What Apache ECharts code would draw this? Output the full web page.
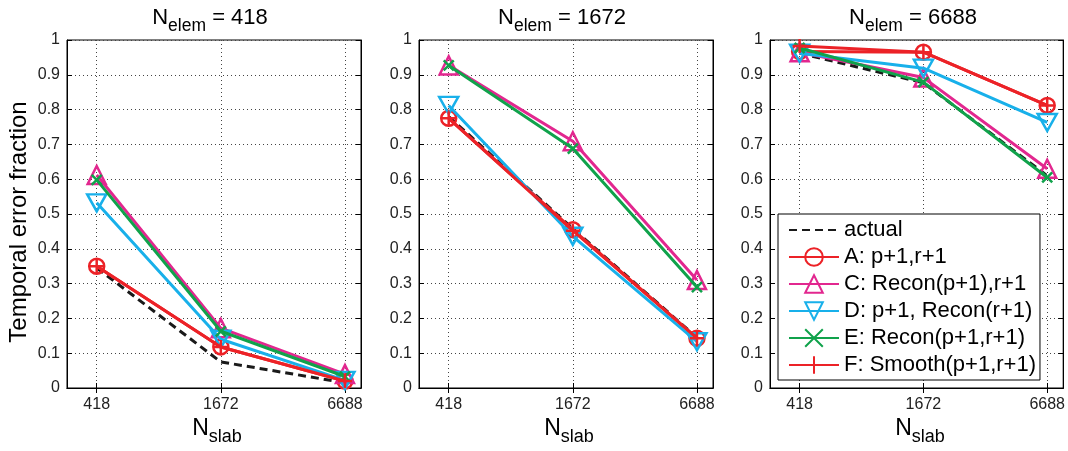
<!DOCTYPE html>
<html>
<head>
<meta charset="utf-8">
<script src="https://cdn.jsdelivr.net/npm/echarts@6/dist/echarts.min.js"></script>
<style>html,body{margin:0;padding:0;background:#fff}#c{width:1068px;height:451px}</style>
</head>
<body>
<div id="c"></div>
<script>
// ---------- data ----------
const N_SLAB = [418, 1672, 6688];
const N_ELEM = ['418', '1672', '6688'];
const SERIES_NAMES = ['actual', 'A: p+1,r+1', 'C: Recon(p+1),r+1', 'D: p+1, Recon(r+1)', 'E: Recon(p+1,r+1)', 'F: Smooth(p+1,r+1)'];
const Y_TICKS = [0, 0.1, 0.2, 0.3, 0.4, 0.5, 0.6, 0.7, 0.8, 0.9, 1];

// Nelem = 418
const actual_418 = [0.345, 0.075, 0.015];
const A_418 = [0.35, 0.118, 0.02];
const C_418 = [0.612, 0.172, 0.04];
const D_418 = [0.532, 0.14, 0.022];
const E_418 = [0.598, 0.163, 0.033];
const F_418 = [0.35, 0.118, 0.02];
// Nelem = 1672
const actual_1672 = [0.78, 0.458, 0.145];
const A_1672 = [0.775, 0.455, 0.143];
const C_1672 = [0.927, 0.709, 0.31];
const D_1672 = [0.812, 0.436, 0.133];
const E_1672 = [0.927, 0.688, 0.29];
const F_1672 = [0.775, 0.452, 0.143];
// Nelem = 6688
const actual_6688 = [0.962, 0.877, 0.61];
const A_6688 = [0.967, 0.965, 0.812];
const C_6688 = [0.965, 0.892, 0.63];
const D_6688 = [0.962, 0.919, 0.763];
const E_6688 = [0.977, 0.879, 0.605];
const F_6688 = [0.983, 0.965, 0.812];

const PANELS = [
  [actual_418, A_418, C_418, D_418, E_418, F_418],
  [actual_1672, A_1672, C_1672, D_1672, E_1672, F_1672],
  [actual_6688, A_6688, C_6688, D_6688, E_6688, F_6688]
];

// ---------- style ----------
const FONT = '"Liberation Sans", Arial, Helvetica, sans-serif';
const RED = '#EC2227', MAG = '#E2278F', CYAN = '#18B0EA', GREEN = '#10A24B', BLACK = '#1a1a1a';
const TRANSP = 'rgba(0,0,0,0)';
const STYLES = [
  {color: BLACK, symbol: 'circle', size: 0, dash: [8, 5], hideSym: true},
  {color: RED, symbol: 'circle', size: 15},
  {color: MAG, symbol: 'triangle', size: 18},
  {color: CYAN, symbol: 'path://M0,0L20,0L10,18Z', size: [19, 17]},
  {color: GREEN, symbol: 'path://M0,0L10,10M10,0L0,10', size: 10},
  {color: RED, symbol: 'path://M7,0L7,14M0,7L14,7', size: 14}
];
const LEFTS = [67, 419, 770];
const GW = 294, GTOP = 40, GH = 348;
const XMIN = Math.log(300), XMAX = Math.log(8000);
const xVals = N_SLAB.map(n => Math.log(n));

const grids = [], xAxes = [], yAxes = [], series = [], titles = [];
LEFTS.forEach((l, i) => {
  grids.push({left: l, top: GTOP, width: GW, height: GH, show: true, borderColor: '#000', borderWidth: 1, backgroundColor: '#fff'});
  const xBase = {
    type: 'value', gridIndex: i, min: XMIN, max: XMAX,
    axisLine: {show: true, lineStyle: {color: '#000', width: 1}},
    axisTick: {show: true, inside: true, length: 5, customValues: xVals, lineStyle: {color: '#000'}},
    splitLine: {show: false}
  };
  xAxes.push(Object.assign({}, xBase, {
    position: 'bottom',
    axisLabel: {customValues: xVals, margin: 9, color: '#222', fontSize: 16, fontFamily: FONT,
      formatter: v => String(Math.round(Math.exp(v)))},
    splitLine: {show: true, lineStyle: {color: '#444', type: [1, 3], width: 1}}
  }));
  xAxes.push(Object.assign({}, xBase, {position: 'top', axisLabel: {show: false}}));
  const yBase = {
    type: 'value', gridIndex: i, min: 0, max: 1, interval: 0.1,
    axisLine: {show: true, lineStyle: {color: '#000', width: 1}},
    axisTick: {show: true, inside: true, length: 5, lineStyle: {color: '#000'}},
    splitLine: {show: false}
  };
  yAxes.push(Object.assign({}, yBase, {
    position: 'left',
    axisLabel: {margin: 7, color: '#222', fontSize: 16, fontFamily: FONT,
      formatter: v => { const r = Math.round(v * 10) / 10; return Y_TICKS.indexOf(r) >= 0 ? String(r) : ''; }},
    splitLine: {show: true, lineStyle: {color: '#444', type: [1, 3], width: 1}}
  }));
  yAxes.push(Object.assign({}, yBase, {position: 'right', axisLabel: {show: false}}));

  PANELS[i].forEach((vals, k) => {
    const st = STYLES[k];
    series.push({
      name: SERIES_NAMES[k], type: 'line', xAxisIndex: i * 2, yAxisIndex: i * 2,
      data: vals.map((v, j) => [xVals[j], v]),
      symbol: st.symbol, symbolSize: st.size, showSymbol: !st.hideSym,
      lineStyle: {color: st.color, width: 3, type: st.dash || 'solid'},
      itemStyle: st.hideSym
        ? {color: TRANSP, borderColor: TRANSP, borderWidth: 0}
        : {color: TRANSP, borderColor: st.color, borderWidth: 2.5},
      emphasis: {disabled: true}, animation: false, z: 3 + k
    });
  });

  const cx = l + GW / 2;
  titles.push({
    left: cx - 4, top: 7, textAlign: 'center', padding: 0,
    text: '{n|N}{s|elem}{n| = ' + N_ELEM[i] + '}',
    textStyle: {fontWeight: 'normal', rich: {
      n: {fontSize: 22, fontFamily: FONT, fontWeight: 'normal', color: '#000', verticalAlign: 'bottom', padding: [0, 0, 6, 0]},
      s: {fontSize: 17.5, fontFamily: FONT, fontWeight: 'normal', color: '#000', verticalAlign: 'bottom'}
    }}
  });
  titles.push({
    left: cx + 3, top: 417, textAlign: 'center', padding: 0,
    text: '{n|N}{s|slab}',
    textStyle: {fontWeight: 'normal', rich: {
      n: {fontSize: 23, fontFamily: FONT, fontWeight: 'normal', color: '#000', verticalAlign: 'bottom', padding: [0, 0, 6, 0]},
      s: {fontSize: 18, fontFamily: FONT, fontWeight: 'normal', color: '#000', verticalAlign: 'bottom'}
    }}
  });
});

const chart = echarts.init(document.getElementById('c'), null, {renderer: 'canvas'});
chart.setOption({
  animation: false,
  backgroundColor: '#fff',
  title: titles,
  grid: grids,
  xAxis: xAxes,
  yAxis: yAxes,
  series: series,
  legend: {
    data: SERIES_NAMES,
    orient: 'vertical', left: 778, top: 214,
    padding: [5, 4, 4, 10], itemGap: 5, itemWidth: 50, itemHeight: 22,
    backgroundColor: '#fff', borderColor: '#000', borderWidth: 1,
    selectedMode: false,
    textStyle: {fontSize: 22, lineHeight: 22, fontFamily: FONT, color: '#000'}
  },
  graphic: [{
    type: 'text', x: 19, y: 222, rotation: Math.PI / 2,
    style: {text: 'Temporal error fraction', font: '24px ' + FONT, fill: '#000', align: 'center', verticalAlign: 'middle'}
  }]
});
</script>
</body>
</html>
